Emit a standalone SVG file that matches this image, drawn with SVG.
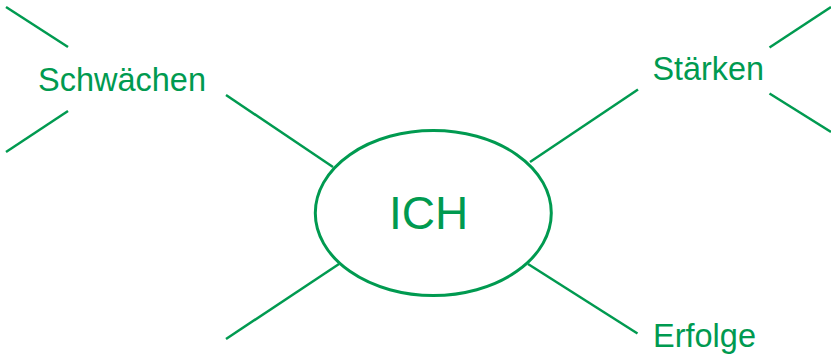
<svg xmlns="http://www.w3.org/2000/svg" width="831" height="359" viewBox="0 0 831 359">
  <style>
    .ln { stroke: #009a50; stroke-width: 2.5; fill: none; stroke-linecap: butt; }
    .lbl { font-family: "Liberation Sans", Arial, sans-serif; fill: #009a50; font-size: 32.5px; }
  </style>
  <rect width="831" height="359" fill="#ffffff"/>
  <g id="connectors">
    <line class="ln" x1="333" y1="167" x2="226" y2="95"/>
    <line class="ln" x1="530" y1="162" x2="638" y2="89.5"/>
    <line class="ln" x1="339" y1="264" x2="226" y2="339"/>
    <line class="ln" x1="528" y1="264" x2="637.5" y2="333.5"/>
    <line class="ln" x1="6" y1="7" x2="68" y2="47"/>
    <line class="ln" x1="6" y1="152" x2="68" y2="111"/>
    <line class="ln" x1="769.5" y1="47.5" x2="831" y2="7"/>
    <line class="ln" x1="769.5" y1="93.5" x2="831" y2="132"/>
  </g>
  <g id="ich">
    <ellipse cx="433.3" cy="213" rx="118" ry="82.5" fill="#ffffff" stroke="#009a50" stroke-width="3"/>
    <text class="lbl" x="428.5" y="229" text-anchor="middle" style="font-size:46px">ICH</text>
  </g>
  <g id="schwaechen">
    <text class="lbl" x="38" y="91" textLength="168" lengthAdjust="spacingAndGlyphs">Schwächen</text>
  </g>
  <g id="staerken">
    <text class="lbl" x="652.5" y="80" textLength="111.5" lengthAdjust="spacingAndGlyphs">Stärken</text>
  </g>
  <g id="erfolge">
    <text class="lbl" x="653" y="347" textLength="103" lengthAdjust="spacingAndGlyphs">Erfolge</text>
  </g>
</svg>
